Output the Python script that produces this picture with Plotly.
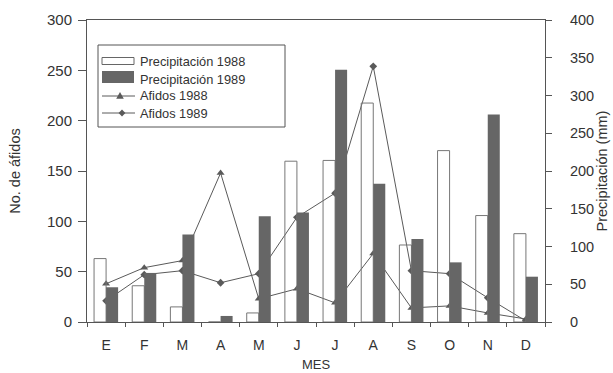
import plotly.graph_objects as go

month_labels = ["E", "F", "M", "A", "M", "J", "J", "A", "S", "O", "N", "D"]
month_pos = list(range(1, 13))
precip_1988 = [84, 48, 20, 0, 12, 213, 214, 290, 102, 227, 141, 117]
precip_1989 = [46, 65, 116, 8, 140, 145, 334, 183, 110, 79, 275, 60]
afidos_1988 = [38, 54, 61, 148, 23, 33, 19, 68, 14, 16, 9, 3]
afidos_1989 = [21, 47, 51, 39, 48, 104, 128, 254, 51, 48, 24, 1]
legend_names = ["Precipitación 1988", "Precipitación 1989", "Afidos 1988", "Afidos 1989"]

font_family = "Liberation Sans, Arial, Helvetica, sans-serif"
axis_col = "#555555"
text_col = "#333333"
line_col = "#5a5a5a"
bar_col = "#666666"

# plot area in pixels (for the hand-drawn legend)
L, R, T, B = 87, 545, 20, 322
def px(X):
    return (X - L) / (R - L)
def py(Y):
    return 1 - (Y - T) / (B - T)

fig = go.Figure()

fig.add_trace(go.Scatter(
    x=month_pos, y=afidos_1988, name=legend_names[2], mode="lines+markers",
    line=dict(color=line_col, width=1),
    marker=dict(symbol="triangle-up", size=7, color=line_col),
    yaxis="y", showlegend=False))
fig.add_trace(go.Scatter(
    x=month_pos, y=afidos_1989, name=legend_names[3], mode="lines+markers",
    line=dict(color=line_col, width=1),
    marker=dict(symbol="diamond", size=6, color=line_col),
    yaxis="y", showlegend=False))
fig.add_trace(go.Bar(
    x=month_pos, y=precip_1988, name=legend_names[0],
    marker=dict(color="rgba(0,0,0,0)", line=dict(color="#777777", width=1)),
    yaxis="y2", showlegend=False))
fig.add_trace(go.Bar(
    x=month_pos, y=precip_1989, name=legend_names[1],
    marker=dict(color=bar_col, line=dict(color=bar_col, width=0)),
    yaxis="y2", showlegend=False))

shapes = []
annotations = []
# legend box
shapes.append(dict(type="rect", xref="paper", yref="paper",
                   x0=px(98), x1=px(285), y0=py(45), y1=py(127),
                   line=dict(color="#555555", width=1), fillcolor="white", layer="above"))
rows = [61, 79, 96, 113]
# open bar symbol
shapes.append(dict(type="rect", xref="paper", yref="paper",
                   x0=px(102), x1=px(134), y0=py(57.5), y1=py(64.5),
                   line=dict(color="#666666", width=1), fillcolor="white", layer="above"))
# filled bar symbol
shapes.append(dict(type="rect", xref="paper", yref="paper",
                   x0=px(102), x1=px(134), y0=py(71), y1=py(83),
                   line=dict(color=bar_col, width=0), fillcolor=bar_col, layer="above"))
# line symbols
for r in rows[2:]:
    shapes.append(dict(type="line", xref="paper", yref="paper",
                       x0=px(102), x1=px(135), y0=py(r), y1=py(r),
                       line=dict(color=line_col, width=1), layer="above"))
tx, ty = 120, rows[2]
shapes.append(dict(type="path", xref="paper", yref="paper", layer="above",
                   path=f"M {px(tx)} {py(ty-4)} L {px(tx+3.8)} {py(ty+2.8)} L {px(tx-3.8)} {py(ty+2.8)} Z",
                   fillcolor=line_col, line=dict(color=line_col, width=0)))
dx, dy = 122, rows[3]
shapes.append(dict(type="path", xref="paper", yref="paper", layer="above",
                   path=f"M {px(dx)} {py(dy-3.6)} L {px(dx+3.4)} {py(dy)} L {px(dx)} {py(dy+3.6)} L {px(dx-3.4)} {py(dy)} Z",
                   fillcolor=line_col, line=dict(color=line_col, width=0)))
for name, r in zip(legend_names, rows):
    annotations.append(dict(xref="paper", yref="paper", x=px(138), y=py(r),
                            xanchor="left", yanchor="middle", text=name, showarrow=False,
                            font=dict(size=12.8, color=text_col)))

fig.update_layout(
    width=613, height=373,
    margin=dict(l=L, r=613 - R, t=T, b=373 - B, autoexpand=False),
    paper_bgcolor="white", plot_bgcolor="white",
    font=dict(family=font_family, color=text_col, size=13),
    barmode="group", bargap=0.37, bargroupgap=0,
    showlegend=False,
    shapes=shapes, annotations=annotations,
    xaxis=dict(
        range=[0.5, 12.5], tickmode="array", tickvals=month_pos, ticktext=month_labels,
        ticks="", showgrid=False, zeroline=False, automargin=False,
        showline=True, linecolor=axis_col, linewidth=1, mirror=True,
        tickfont=dict(size=14, color=text_col), ticklabelstandoff=10,
        minor=dict(tickvals=[i + 0.5 for i in range(0, 13)], ticks="outside",
                   ticklen=4, tickcolor=axis_col, showgrid=False),
        title=dict(text="MES", font=dict(size=13, color=text_col), standoff=8),
    ),
    yaxis=dict(
        range=[0, 300], tickvals=[0, 50, 100, 150, 200, 250, 300],
        ticks="outside", ticklen=8, tickcolor=axis_col, automargin=False,
        showgrid=False, zeroline=False,
        showline=True, linecolor=axis_col, linewidth=1,
        tickfont=dict(size=15, color=text_col), ticklabelstandoff=3,
        title=dict(text="No. de áfidos", font=dict(size=14.5, color=text_col), standoff=22),
    ),
    yaxis2=dict(
        range=[0, 400], tickvals=[0, 50, 100, 150, 200, 250, 300, 350, 400],
        overlaying="y", side="right", automargin=False,
        ticks="outside", ticklen=6, tickcolor=axis_col,
        showgrid=False, zeroline=False,
        showline=True, linecolor=axis_col, linewidth=1,
        tickfont=dict(size=14.5, color=text_col), ticklabelstandoff=15,
        title=dict(text="Precipitación (mm)", font=dict(size=14.5, color=text_col), standoff=2),
    ),
)

fig.write_html("out.html")
